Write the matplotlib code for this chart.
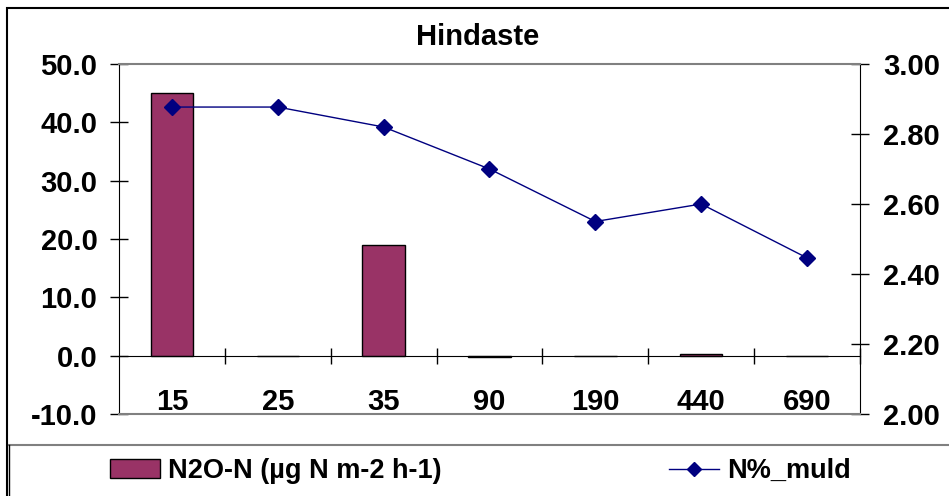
import matplotlib
matplotlib.use("Agg")
import matplotlib.pyplot as plt
from matplotlib.lines import Line2D
from matplotlib.patches import Patch, Rectangle
import numpy as np

# data
depths = ["15", "25", "35", "90", "190", "440", "690"]
n2o_n = [45.0, 0.0, 19.0, -0.3, 0.0, 0.35, 0.0]
n_muld = [2.877, 2.877, 2.82, 2.70, 2.55, 2.60, 2.446]
left_ticks = [-10, 0, 10, 20, 30, 40, 50]
right_ticks = [2.0, 2.2, 2.4, 2.6, 2.8, 3.0]

BAR_C = "#993366"
LINE_C = "#000080"
GRAY = "#808080"

plt.rcParams["font.family"] = ["Liberation Sans", "DejaVu Sans"]
plt.rcParams["font.weight"] = "bold"

W, H = 949, 496
fig = plt.figure(figsize=(W / 100, H / 100), dpi=100)
ax = fig.add_axes([119 / W, 82 / H, 741 / W, 350 / H])

x = np.arange(len(depths))
ax.bar(x, n2o_n, width=0.4, color=BAR_C, edgecolor="black", linewidth=1, zorder=2)
ax.set_xlim(-0.5, len(depths) - 0.5)
ax.set_ylim(-10, 50)
ax.set_yticks(left_ticks)
ax.set_yticklabels([f"{v:.1f}" for v in left_ticks])
ax.tick_params(axis="y", direction="inout", length=13, width=1, pad=9,
               labelsize=21, color="black")

# category axis sits on the zero line
ax.spines["bottom"].set_position(("data", 0))
ax.spines["bottom"].set_color("black")
ax.spines["top"].set_visible(False)
ax.spines["right"].set_visible(False)
ax.spines["left"].set_color("black")
ax.set_xticks(x)
ax.set_xticklabels(depths)
ax.set_xticks(np.arange(0.5, len(depths), 1), minor=True)
ax.tick_params(axis="x", which="major", length=0, pad=23, labelsize=21)
ax.tick_params(axis="x", which="minor", direction="inout", length=12, width=1)

ax2 = ax.twinx()
ax2.plot(x, n_muld, color=LINE_C, marker="D", markersize=8, linewidth=1, zorder=3)
ax2.set_ylim(2.0, 3.0)
ax2.set_yticks(right_ticks)
ax2.set_yticklabels([f"{v:.2f}" for v in right_ticks])
ax2.tick_params(axis="y", direction="inout", length=13, width=1, pad=10,
                labelsize=21)
ax2.spines["left"].set_visible(False)
ax2.spines["right"].set_color("black")
ax2.spines["top"].set_color(GRAY)
ax2.spines["bottom"].set_color(GRAY)
ax2.spines["top"].set_linewidth(1.5)
ax2.spines["bottom"].set_linewidth(1.5)

fig.text(478 / W, 1 - 45 / H, "Hindaste", ha="center", va="baseline",
         fontsize=21, fontweight="bold")

# legend
h1 = Patch(facecolor=BAR_C, edgecolor="black", linewidth=1)
h2 = Line2D([], [], color=LINE_C, marker="D", markersize=7, linewidth=1)
leg_y = 1 - 471 / H
fig.legend([h1], ["N2O-N (µg N m-2 h-1)"], loc="center left",
           bbox_to_anchor=(110 / W, leg_y), frameon=False, borderpad=0,
           borderaxespad=0, handlelength=1.85, handleheight=0.75,
           handletextpad=0.3, prop={"size": 19.5, "weight": "bold"})
fig.legend([h2], ["N%_muld"], loc="center left",
           bbox_to_anchor=(669 / W, leg_y), frameon=False, borderpad=0,
           borderaxespad=0, handlelength=1.85, handletextpad=0.3,
           prop={"size": 19.5, "weight": "bold"})

# borders
fig.add_artist(Line2D([9 / W, 1.01], [1 - 445 / H] * 2, color=GRAY, lw=1.5,
                      transform=fig.transFigure))
fig.add_artist(Line2D([9 / W] * 2, [1 - 445 / H, -0.01], color="black", lw=1,
                      transform=fig.transFigure))
fig.add_artist(Rectangle((7 / W, -0.05), 1.0, 1 - 8 / H + 0.05, fill=False,
                         edgecolor="black", lw=1.5, transform=fig.transFigure))

fig.savefig("out.png", dpi=100, facecolor="white")
